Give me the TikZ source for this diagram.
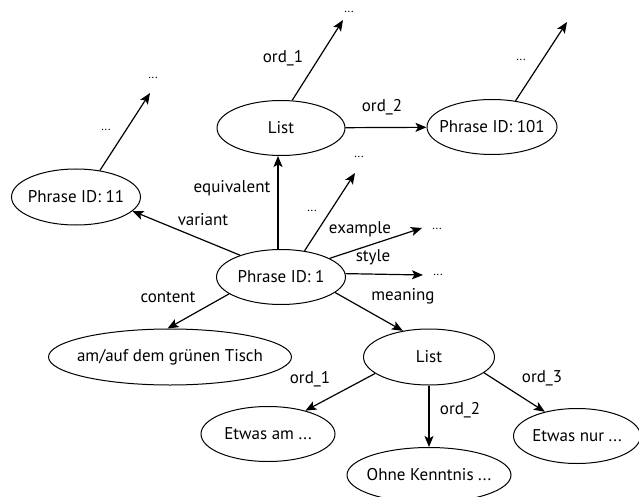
\documentclass[tikz,border=0pt]{standalone}
\usepackage{fontspec}
\setmainfont{PT Sans}
\usetikzlibrary{shapes.geometric,arrows.meta}
\begin{document}
\begin{tikzpicture}[x=1pt,y=-1pt,
  ent/.style={draw,ellipse,line width=1pt,inner sep=0pt,
    label={[font=\fontsize{17}{19}\selectfont,inner sep=0pt]center:#1}},
  lbl/.style={inner sep=0pt,font=\fontsize{17}{19}\selectfont},
  dots/.style={inner sep=0pt,font=\fontsize{12}{13}\selectfont},
  rel/.style={line width=1.2pt,-{Stealth[length=11pt,width=9pt,inset=2.5pt]}}]
\useasboundingbox (0,0) rectangle (639,497);
% entities
\node[ent={Phrase ID: 1},minimum width=129pt,minimum height=55pt] (P1) at (281,277) {};
\node[ent={List},minimum width=128pt,minimum height=55pt] (L1) at (281,128) {};
\node[ent={Phrase ID: 101},minimum width=130pt,minimum height=55pt] (P101) at (492,127) {};
\node[ent={Phrase ID: 11},minimum width=129pt,minimum height=56pt] (P11) at (76,197) {};
\node[ent={am/auf dem grünen Tisch},minimum width=243pt,minimum height=56pt] (AT) at (170,357) {};
\node[ent={List},minimum width=131pt,minimum height=56pt] (L2) at (429,357) {};
\node[ent={Etwas am ...},minimum width=134pt,minimum height=55pt] (EA) at (268,434) {};
\node[ent={Ohne Kenntnis ...},minimum width=164pt,minimum height=55pt] (OK) at (429,475) {};
\node[ent={Etwas nur ...},minimum width=127pt,minimum height=55pt] (EN) at (577,436) {};
% free ends
\coordinate (t1) at (343,20);
\coordinate (t101) at (567,22);
\coordinate (t11) at (150,93);
\coordinate (tx) at (355,173);
\coordinate (tex) at (422,228);
\coordinate (tst) at (423,275);
% dots texts
\node[dots] (d1) at (349,12) {...};
\node[dots] (d101) at (521,60) {...};
\node[dots] (d11a) at (106,130) {...};
\node[dots] (d11b) at (153,78) {...};
\node[dots] (dxa) at (312,211) {...};
\node[dots] (dxb) at (359,157) {...};
\node[dots] (dex) at (437,229) {...};
\node[dots] (dst) at (438,275) {...};
% connectors
\draw[rel] ([xshift=-3pt]P1.north) -- ([xshift=-3pt]L1.south);
\draw[rel] (L1.68) -- (t1);
\draw[rel] (L1) -- (P101);
\draw[rel] (P101.48) -- (t101);
\draw[rel] (P11.48) -- (t11);
\draw[rel] (P1.152) -- (P11.-14);
\draw[rel] (P1.48) -- (tx);
\draw[rel] (P1.21) -- (tex);
\draw[rel] (P1.3) -- (tst);
\draw[rel] (P1.-16) -- (L2.135);
\draw[rel] (P1.198) -- (AT.95);
\draw[rel] (L2.197) -- (EA.32);
\draw[rel] (L2) -- (OK);
\draw[rel] (L2.-16) -- (EN.143);
% labels
\node[lbl] (lo1) at (283,58) {ord\_1};
\node[lbl] (lo2) at (382,107) {ord\_2};
\node[lbl] (lva) at (203,220) {variant};
\node[lbl] (leq) at (232,188) {equivalent};
\node[lbl] (lex) at (360,229) {example};
\node[lbl] (lst) at (373,257) {style};
\node[lbl] (lme) at (403,296) {meaning};
\node[lbl] (lco) at (168,297) {content};
\node[lbl] (lb1) at (310,379) {ord\_1};
\node[lbl] (lb2) at (460,410) {ord\_2};
\node[lbl] (lb3) at (542,378) {ord\_3};
\end{tikzpicture}
\end{document}
